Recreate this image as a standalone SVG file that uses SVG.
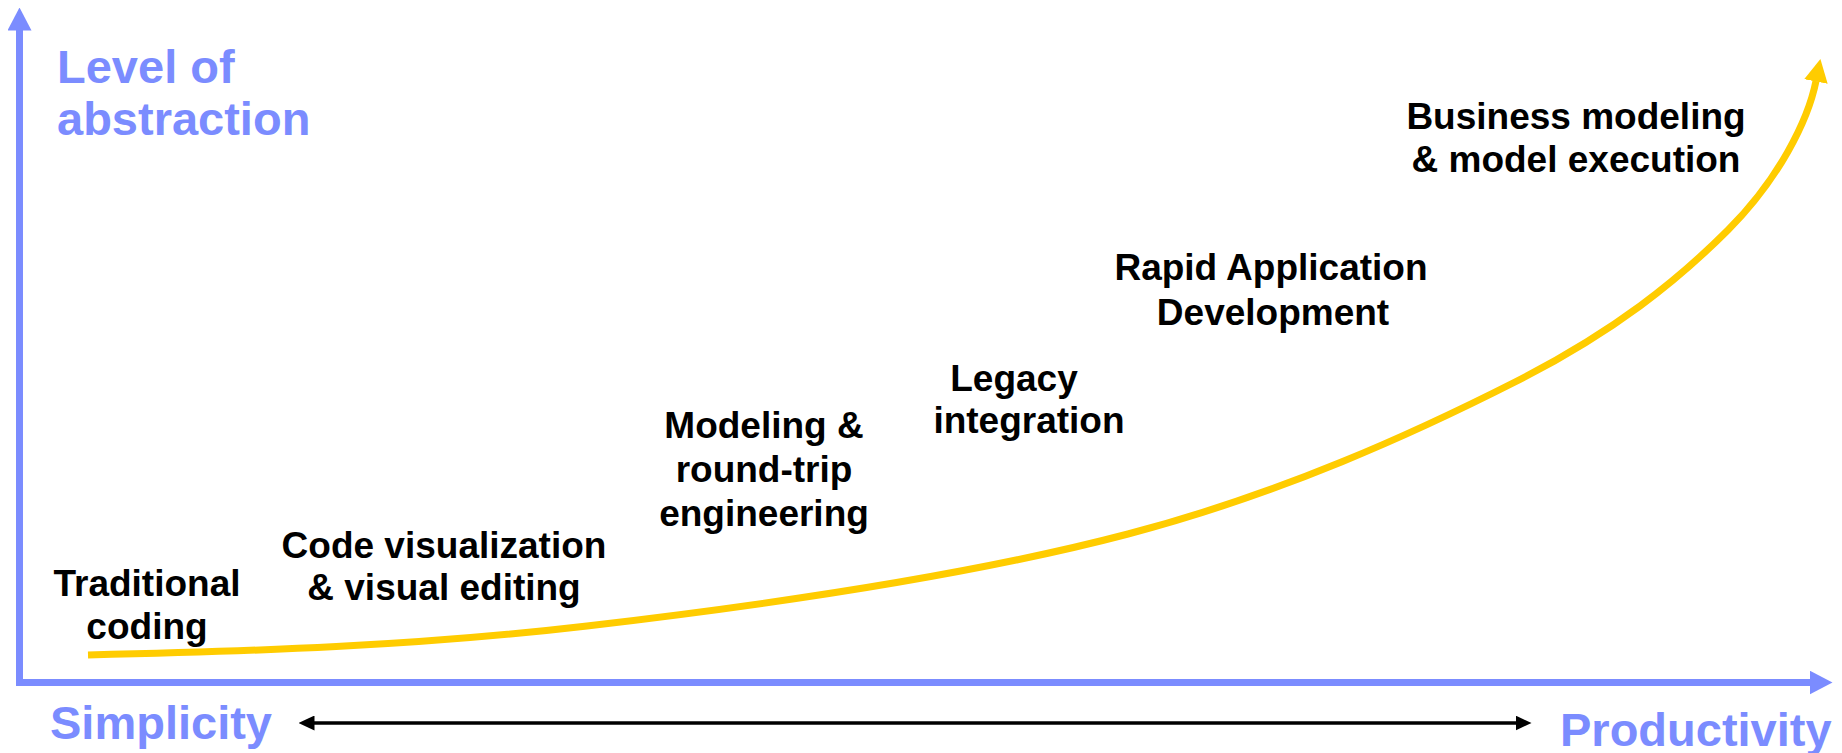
<svg xmlns="http://www.w3.org/2000/svg" width="1842" height="753" viewBox="0 0 1842 753">
<style>
.ax{fill:#7b8cff;font-family:"Liberation Sans",Arial,sans-serif;font-weight:bold;font-size:47px}
.lb{fill:#000;font-family:"Liberation Sans",Arial,sans-serif;font-weight:bold;font-size:37px;text-anchor:middle}
.axis{stroke:#7b8cff;stroke-width:7;fill:none}
.curve{stroke:#ffcc00;stroke-width:7;fill:none}
.dbl{stroke:#000;stroke-width:3.5;fill:none}
</style>
<defs>
<marker id="hb" viewBox="0 0 23 24" refX="0.5" refY="12" markerWidth="23" markerHeight="24" orient="auto" markerUnits="userSpaceOnUse"><path d="M0,0 L23,12 L0,24 z" fill="#7b8cff"/></marker>
<marker id="hy" viewBox="0 0 23 24" refX="0.5" refY="12" markerWidth="23" markerHeight="24" orient="auto" markerUnits="userSpaceOnUse"><path d="M0,0 L23,12 L0,24 z" fill="#ffcc00"/></marker>
<marker id="hk" viewBox="0 0 16 15" refX="0.5" refY="7.5" markerWidth="16" markerHeight="15" orient="auto-start-reverse" markerUnits="userSpaceOnUse"><path d="M0,0 L16,7.5 L0,15 z" fill="#000"/></marker>
</defs>
<rect width="1842" height="753" fill="#fff"/>
<g id="connectors">
<line class="axis" x1="19.5" y1="686" x2="19.5" y2="30" marker-end="url(#hb)"/>
<line class="axis" x1="16" y1="682.5" x2="1810" y2="682.5" marker-end="url(#hb)"/>
<path class="curve" d="M88,655 C258,651 413.7,646.2 587,626 C760.3,605.8 973.3,574.7 1128,534 C1282.7,493.3 1415,432.7 1515,382 C1615,331.3 1677.8,280.2 1728,230 C1778.2,179.8 1808,121 1816,81" marker-end="url(#hy)"/>
<line class="dbl" x1="314" y1="723" x2="1516" y2="723" marker-start="url(#hk)" marker-end="url(#hk)"/>
</g>
<g id="axis-y-label"><text class="ax" x="57" y="83">Level of</text><text class="ax" x="57" y="135">abstraction</text></g>
<g id="axis-left-label"><text class="ax" x="50" y="739">Simplicity</text></g>
<g id="axis-right-label"><text class="ax" x="1560" y="746">Productivity</text></g>
<g id="traditional-coding"><text class="lb" x="147" y="596">Traditional</text><text class="lb" x="147" y="639">coding</text></g>
<g id="code-visualization"><text class="lb" x="444" y="558">Code visualization</text><text class="lb" x="444" y="600">&amp; visual editing</text></g>
<g id="modeling"><text class="lb" x="764" y="438">Modeling &amp;</text><text class="lb" x="764" y="482">round-trip</text><text class="lb" x="764" y="526">engineering</text></g>
<g id="legacy"><text class="lb" x="1014" y="391">Legacy</text><text class="lb" x="1029" y="433">integration</text></g>
<g id="rad"><text class="lb" x="1271" y="280">Rapid Application</text><text class="lb" x="1273" y="325">Development</text></g>
<g id="business"><text class="lb" x="1576" y="129">Business modeling</text><text class="lb" x="1576" y="172">&amp; model execution</text></g>
</svg>
